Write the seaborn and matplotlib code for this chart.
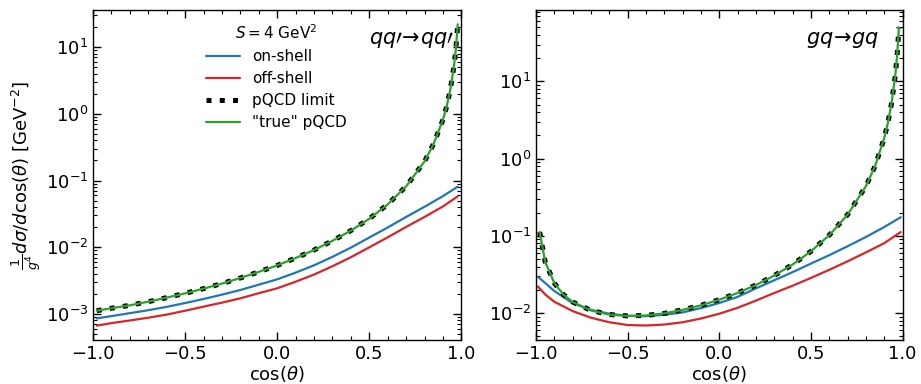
import numpy as np
import pandas as pd
import matplotlib
matplotlib.use("Agg")
import matplotlib.pyplot as plt
import seaborn as sns
from matplotlib.lines import Line2D
from matplotlib.ticker import MultipleLocator, LogLocator, NullFormatter

# ---------------- data ----------------
# qq' -> qq'
cos_L_bulk = [-0.98, -0.9, -0.8, -0.7, -0.6, -0.5, -0.4, -0.3, -0.2, -0.1,
              0.0, 0.1, 0.2, 0.3, 0.4, 0.5, 0.6, 0.7, 0.8, 0.9, 0.98]
onshell_L = [8.6e-4, 9.3e-4, 1.03e-3, 1.14e-3, 1.28e-3, 1.46e-3, 1.68e-3, 1.95e-3,
             2.29e-3, 2.75e-3, 3.31e-3, 4.17e-3, 5.37e-3, 7.2e-3, 0.0099, 0.0140,
             0.0198, 0.0285, 0.0405, 0.0585, 0.081]
offshell_L = [6.7e-4, 7.3e-4, 8.0e-4, 8.8e-4, 9.8e-4, 1.12e-3, 1.29e-3, 1.48e-3,
              1.72e-3, 2.05e-3, 2.43e-3, 3.05e-3, 3.9e-3, 5.2e-3, 7.1e-3, 0.0100,
              0.0141, 0.0202, 0.0285, 0.0410, 0.058]
cos_L_pqcd = [-0.98, -0.9, -0.8, -0.7, -0.6, -0.5, -0.4, -0.3, -0.2, -0.1, 0.0,
              0.1, 0.2, 0.3, 0.4, 0.5, 0.6, 0.7, 0.8, 0.85, 0.9, 0.92, 0.94,
              0.96, 0.97, 0.98]
pqcd_L = [1.12e-3, 1.22e-3, 1.35e-3, 1.53e-3, 1.76e-3, 2.04e-3, 2.4e-3, 2.86e-3,
          3.47e-3, 4.28e-3, 5.35e-3, 6.9e-3, 9.1e-3, 0.0125, 0.0178, 0.0268,
          0.044, 0.082, 0.194, 0.36, 0.82, 1.29, 2.33, 5.3, 9.5, 22.0]

# gq -> gq
cos_R_bulk = [-0.99, -0.95, -0.9, -0.8, -0.7, -0.6, -0.5, -0.4, -0.3, -0.2, -0.1,
              0.0, 0.1, 0.2, 0.3, 0.4, 0.5, 0.6, 0.7, 0.8, 0.9, 0.99]
onshell_R = [0.0295, 0.0245, 0.0193, 0.0134, 0.0110, 0.0098, 0.0092, 0.0091,
             0.0095, 0.0102, 0.0116, 0.0135, 0.0162, 0.0209, 0.0266, 0.0339,
             0.0437, 0.0562, 0.0733, 0.0966, 0.130, 0.174]
offshell_R = [0.0221, 0.0174, 0.0140, 0.0106, 0.0087, 0.0076, 0.0070, 0.0069,
              0.0071, 0.0076, 0.0085, 0.0098, 0.0117, 0.0145, 0.0182, 0.0226,
              0.0285, 0.0363, 0.0468, 0.0610, 0.0804, 0.112]
cos_R_pqcd = [-0.98, -0.95, -0.9, -0.85, -0.8, -0.7, -0.6, -0.5, -0.4, -0.3,
              -0.2, -0.1, 0.0, 0.1, 0.2, 0.3, 0.4, 0.5, 0.6, 0.7, 0.8, 0.85,
              0.9, 0.92, 0.94, 0.96, 0.97, 0.98]
pqcd_R = [0.112, 0.046, 0.0244, 0.0173, 0.0139, 0.0108, 0.00957, 0.00918,
          0.00933, 0.0099, 0.011, 0.0126, 0.0149, 0.0182, 0.0231, 0.0306,
          0.0425, 0.063, 0.102, 0.188, 0.44, 0.80, 1.85, 2.92, 5.24, 11.9,
          21.3, 50.0]

series_labels = ["on-shell", "off-shell", "pQCD limit", "\"true\" pQCD"]
process_labels = [r"$qq\prime\!\rightarrow\! qq\prime$", r"$gq\!\rightarrow\! gq$"]
legend_title = r"$S = 4$ GeV$^2$"

# ---------------- style ----------------
sns.set_style("ticks")
plt.rcParams['font.family'] = ['DejaVu Sans']
plt.rcParams['mathtext.fontset'] = 'dejavusans'
for k in ["text.color", "axes.labelcolor", "xtick.color", "ytick.color", "axes.edgecolor"]:
    plt.rcParams[k] = "black"

fig = plt.figure(figsize=(9.21, 3.84), dpi=100)
axL = fig.add_axes([0.101, 0.115, 0.400, 0.859])
axR = fig.add_axes([0.582, 0.115, 0.398, 0.859])

c_on, c_off, c_lim, c_true = "#1f77b4", "#d62728", "black", "#2ca02c"


def draw(ax, cb, on, off, cp, pq):
    sns.lineplot(x=cb, y=on, ax=ax, color=c_on, lw=1.6, sort=False)
    sns.lineplot(x=cb, y=off, ax=ax, color=c_off, lw=1.6, sort=False)
    sns.lineplot(x=cp, y=pq, ax=ax, color=c_lim, lw=3.6, linestyle=":", sort=False)
    sns.lineplot(x=cp, y=pq, ax=ax, color=c_true, lw=1.6, sort=False)
    ax.set_yscale("log")
    ax.set_xlim(-1.0, 1.0)
    ax.xaxis.set_major_locator(MultipleLocator(0.5))
    ax.xaxis.set_minor_locator(MultipleLocator(0.1))
    ax.yaxis.set_minor_locator(LogLocator(base=10, subs=np.arange(2, 10), numticks=20))
    ax.yaxis.set_minor_formatter(NullFormatter())
    ax.tick_params(which="both", direction="in", top=True, right=True)
    ax.tick_params(which="major", length=6, width=1.0, labelsize=13)
    ax.tick_params(which="minor", length=3, width=0.8)
    for s in ax.spines.values():
        s.set_linewidth(1.0)
    ax.set_xlabel(r"cos($\theta$)", fontsize=13, labelpad=1)
    ax.set_ylabel("")


draw(axL, cos_L_bulk, onshell_L, offshell_L, cos_L_pqcd, pqcd_L)
draw(axR, cos_R_bulk, onshell_R, offshell_R, cos_R_pqcd, pqcd_R)

axL.set_ylim(4.1e-4, 36)
axR.set_ylim(4.5e-3, 84)

axL.set_ylabel(r"$\frac{1}{g^4}d\sigma/d\cos(\theta)$ [GeV$^{-2}$]", fontsize=13, labelpad=2)

axL.text(0.98, 0.91, process_labels[0], transform=axL.transAxes,
         ha="right", va="center", fontsize=15)
axR.text(0.935, 0.91, process_labels[1], transform=axR.transAxes,
         ha="right", va="center", fontsize=15)

handles = [
    Line2D([], [], color=c_on, lw=1.6),
    Line2D([], [], color=c_off, lw=1.6),
    Line2D([], [], color=c_lim, lw=3.6, linestyle=":"),
    Line2D([], [], color=c_true, lw=1.6),
]
leg = axL.legend(handles, series_labels, title=legend_title, loc="upper left",
                 bbox_to_anchor=(0.27, 1.0), frameon=False, fontsize=11,
                 title_fontsize=11, handlelength=2.2, labelspacing=0.45)

fig.savefig("out.png", dpi=100)
